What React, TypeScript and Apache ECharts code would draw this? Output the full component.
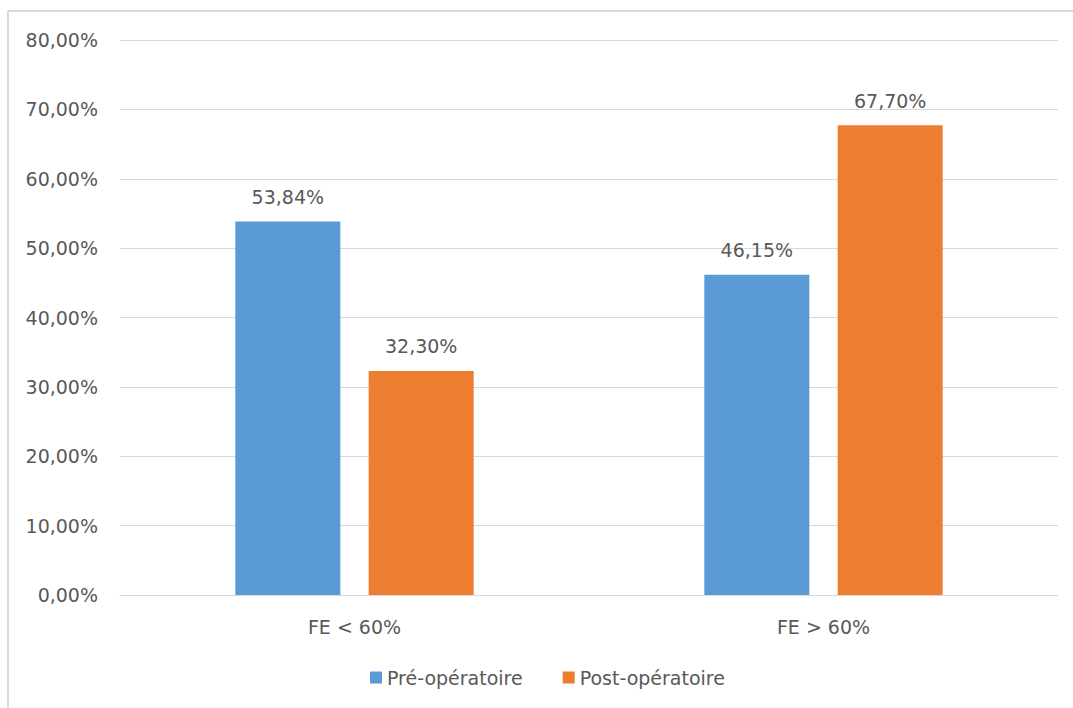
import React, { useEffect, useRef } from "react";
import * as echarts from "echarts";

const categories = ["FE < 60%", "FE > 60%"];
const preOp = [53.84, 46.15];
const postOp = [32.3, 67.7];
const seriesNames = ["Pré-opératoire", "Post-opératoire"];

const FONT = "'DejaVu Sans', sans-serif";
const FS = 19;
const TEXT = "#595959";

const fmt = (v: number) => v.toFixed(2).replace(".", ",") + "%";

export default function App() {
  const ref = useRef<HTMLDivElement>(null);

  useEffect(() => {
    if (!ref.current) return;
    const chart = echarts.init(ref.current, undefined, { renderer: "svg" });
    const labelStyle = {
      show: true,
      position: "top" as const,
      distance: 15,
      formatter: (p: any) => fmt(p.value),
      color: TEXT,
      fontSize: FS,
      fontFamily: FONT,
    };
    chart.setOption({
      animation: false,
      backgroundColor: "#ffffff",
      graphic: [
        {
          type: "line",
          shape: { x1: 8, y1: 11, x2: 1073, y2: 11 },
          style: { stroke: "#d9d9d9", lineWidth: 2 },
        },
        {
          type: "line",
          shape: { x1: 8, y1: 11, x2: 8, y2: 708 },
          style: { stroke: "#d9d9d9", lineWidth: 2 },
        },
      ],
      grid: { left: 120, right: 15, top: 40, bottom: 113 },
      legend: {
        bottom: 16,
        left: 365,
        itemWidth: 12,
        itemHeight: 12,
        itemGap: 40,
        icon: "rect",
        textStyle: { color: TEXT, fontSize: FS, fontFamily: FONT },
        data: seriesNames,
      },
      xAxis: {
        type: "category",
        data: categories,
        axisLine: { lineStyle: { color: "#d9d9d9", width: 1 } },
        axisTick: { show: false },
        axisLabel: { color: TEXT, fontSize: FS, fontFamily: FONT, margin: 22 },
      },
      yAxis: {
        type: "value",
        min: 0,
        max: 80,
        interval: 10,
        axisLine: { show: false },
        axisTick: { show: false },
        splitLine: { lineStyle: { color: "#d9d9d9", width: 1 } },
        axisLabel: {
          color: TEXT,
          fontSize: FS,
          fontFamily: FONT,
          margin: 22,
          formatter: (v: number) => fmt(v),
        },
      },
      series: [
        {
          name: seriesNames[0],
          type: "bar",
          data: preOp,
          barWidth: 105,
          barGap: "27%",
          itemStyle: { color: "#5b9bd5" },
          label: labelStyle,
        },
        {
          name: seriesNames[1],
          type: "bar",
          data: postOp,
          barWidth: 105,
          barGap: "27%",
          itemStyle: { color: "#ed7d31" },
          label: labelStyle,
        },
      ],
    });
    return () => chart.dispose();
  }, []);

  return (
    <div
      ref={ref}
      style={{ position: "fixed", left: 0, top: 0, width: 1073, height: 708 }}
    />
  );
}
